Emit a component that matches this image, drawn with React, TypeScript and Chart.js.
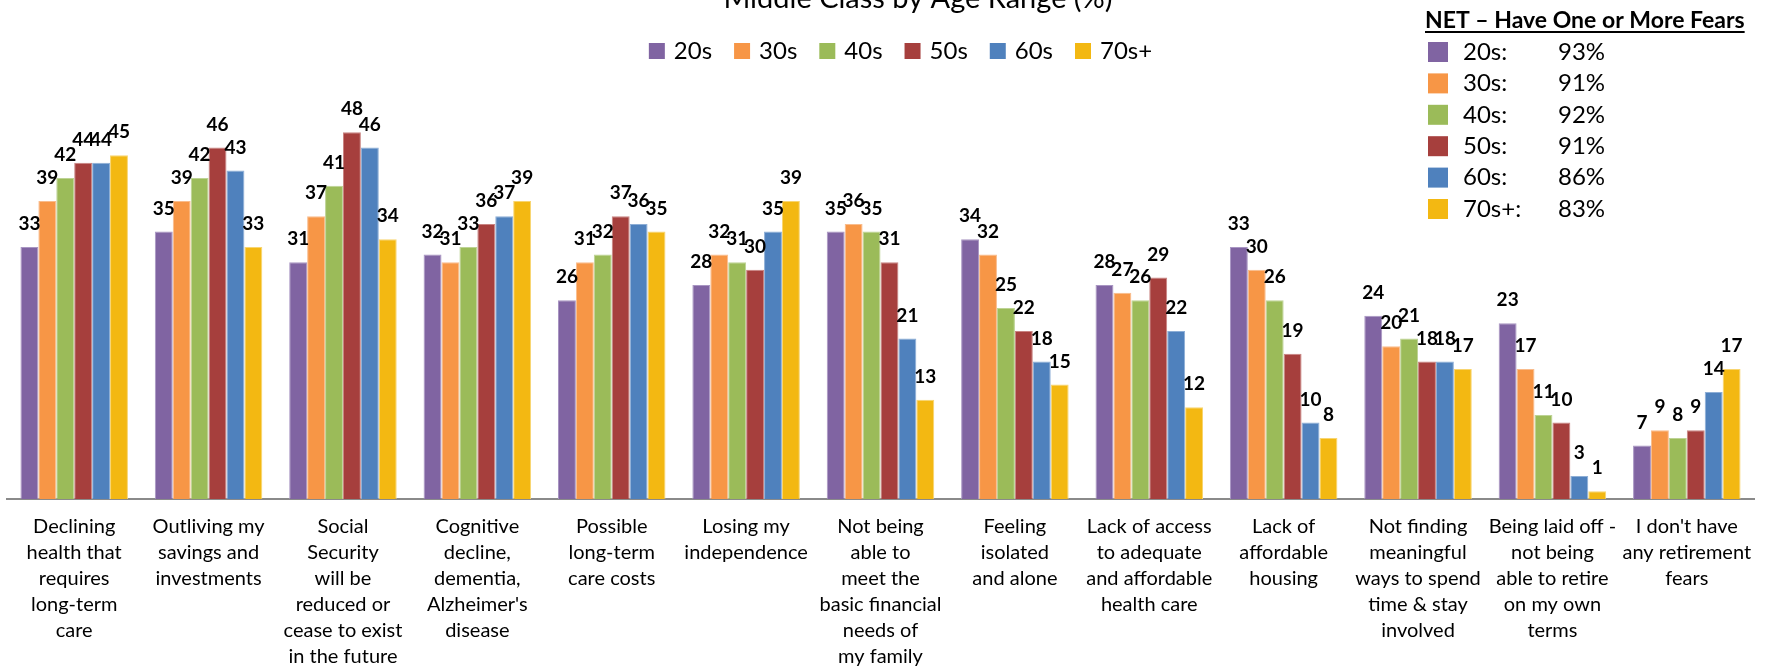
import React, { useEffect, useRef } from "react";
import { Chart, registerables } from "chart.js";

Chart.register(...registerables);

const chartTitle = "Middle Class by Age Range (%)";

const categories: string[][] = [
  ["Declining", "health that", "requires", "long-term", "care"],
  ["Outliving my", "savings and", "investments"],
  ["Social", "Security", "will be", "reduced or", "cease to exist", "in the future"],
  ["Cognitive", "decline,", "dementia,", "Alzheimer's", "disease"],
  ["Possible", "long-term", "care costs"],
  ["Losing my", "independence"],
  ["Not being", "able to", "meet the", "basic financial", "needs of", "my family"],
  ["Feeling", "isolated", "and alone"],
  ["Lack of access", "to adequate", "and affordable", "health care"],
  ["Lack of", "affordable", "housing"],
  ["Not finding", "meaningful", "ways to spend", "time & stay", "involved"],
  ["Being laid off -", "not being", "able to retire", "on my own", "terms"],
  ["I don't have", "any retirement", "fears"],
];

const seriesNames = ["20s", "30s", "40s", "50s", "60s", "70s+"];

const values20s = [33, 35, 31, 32, 26, 28, 35, 34, 28, 33, 24, 23, 7];
const values30s = [39, 39, 37, 31, 31, 32, 36, 32, 27, 30, 20, 17, 9];
const values40s = [42, 42, 41, 33, 32, 31, 35, 25, 26, 26, 21, 11, 8];
const values50s = [44, 46, 48, 36, 37, 30, 31, 22, 29, 19, 18, 10, 9];
const values60s = [44, 43, 46, 37, 36, 35, 21, 18, 22, 10, 18, 3, 14];
const values70s = [45, 33, 34, 39, 35, 39, 13, 15, 12, 8, 17, 1, 17];

const netTitle = "NET \u2013 Have One or More Fears";
const netLabels = ["20s:", "30s:", "40s:", "50s:", "60s:", "70s+:"];
const netValues = [93, 91, 92, 91, 86, 83];

const fillColors = ["#8064A2", "#F79646", "#9BBB59", "#A63F3D", "#4F81BD", "#F3B812"];
const edgeColors = ["#A895C2", "#F9BC8C", "#BDD394", "#C98381", "#8DAED6", "#F8D570"];

const FONT = "Lato, 'Open Sans', sans-serif";

const overlayPlugin = {
  id: "overlay",
  afterDatasetsDraw(chart: any) {
    const ctx = chart.ctx;
    ctx.save();
    ctx.fillStyle = "#000";
    ctx.font = `bold 19px ${FONT}`;
    ctx.textAlign = "center";
    ctx.textBaseline = "middle";
    chart.data.datasets.forEach((ds: any, di: number) => {
      const meta = chart.getDatasetMeta(di);
      meta.data.forEach((bar: any, i: number) => {
        ctx.fillText(String(ds.data[i]), bar.x, bar.y - 23);
      });
    });
    ctx.restore();
  },
  afterDraw(chart: any) {
    const ctx = chart.ctx;
    ctx.save();
    // title (partially cut at top)
    ctx.fillStyle = "#000";
    ctx.font = `29px ${FONT}`;
    ctx.textAlign = "center";
    ctx.textBaseline = "alphabetic";
    ctx.fillText(chartTitle, 918, 8);

    // series legend, centred row
    ctx.font = `24px ${FONT}`;
    ctx.textAlign = "left";
    ctx.textBaseline = "middle";
    const box = 16;
    const gap = 9;
    const spacing = 22;
    const widths = seriesNames.map((n) => ctx.measureText(n).width);
    const total =
      widths.reduce((a, b) => a + b, 0) + seriesNames.length * (box + gap) + (seriesNames.length - 1) * spacing;
    let x = 900.5 - total / 2;
    seriesNames.forEach((name, i) => {
      ctx.fillStyle = fillColors[i];
      ctx.fillRect(x, 43, box, box);
      ctx.fillStyle = "#000";
      ctx.fillText(name, x + box + gap, 51);
      x += box + gap + widths[i] + spacing;
    });

    // NET box
    ctx.font = `bold 23px ${FONT}`;
    ctx.textBaseline = "alphabetic";
    ctx.fillText(netTitle, 1425, 28);
    const w = ctx.measureText(netTitle).width;
    ctx.fillRect(1425, 31, w, 2);
    ctx.font = `24px ${FONT}`;
    ctx.textBaseline = "middle";
    netLabels.forEach((lab, i) => {
      const cy = 52 + i * 31.4;
      ctx.fillStyle = fillColors[i];
      ctx.fillRect(1428, cy - 10, 20, 20);
      ctx.fillStyle = "#000";
      ctx.fillText(lab, 1463, cy);
      ctx.fillText(`${netValues[i]}%`, 1558, cy);
    });
    ctx.restore();
  },
};

export default function App() {
  const canvasRef = useRef<HTMLCanvasElement | null>(null);

  useEffect(() => {
    if (!canvasRef.current) return;
    const seriesValues = [values20s, values30s, values40s, values50s, values60s, values70s];
    const chart = new Chart(canvasRef.current, {
      type: "bar",
      data: {
        labels: categories,
        datasets: seriesNames.map((name, i) => ({
          label: name,
          data: seriesValues[i],
          backgroundColor: fillColors[i],
          borderColor: edgeColors[i],
          borderWidth: 1,
          categoryPercentage: 0.8,
          barPercentage: 1.0,
        })),
      },
      options: {
        responsive: true,
        maintainAspectRatio: false,
        animation: false,
        layout: { padding: { left: 7, right: 21, top: 117, bottom: 0 } },
        plugins: {
          legend: { display: false },
          title: { display: false },
          tooltip: { enabled: false },
        },
        scales: {
          x: {
            grid: { display: false, drawTicks: false },
            border: { display: true, color: "#8A8A8A", width: 2 },
            ticks: {
              autoSkip: false,
              maxRotation: 0,
              minRotation: 0,
              padding: 15,
              color: "#000",
              font: { family: FONT, size: 20, lineHeight: 1.3 },
            },
            afterFit: (scale: any) => {
              scale.height = 167;
            },
          },
          y: {
            display: false,
            min: 0,
            max: 50,
          },
        },
      },
      plugins: [overlayPlugin],
    });
    return () => chart.destroy();
  }, []);

  return (
    <div style={{ position: "fixed", left: 0, top: 0, width: 1775, height: 666, background: "#fff" }}>
      <canvas ref={canvasRef} />
    </div>
  );
}
